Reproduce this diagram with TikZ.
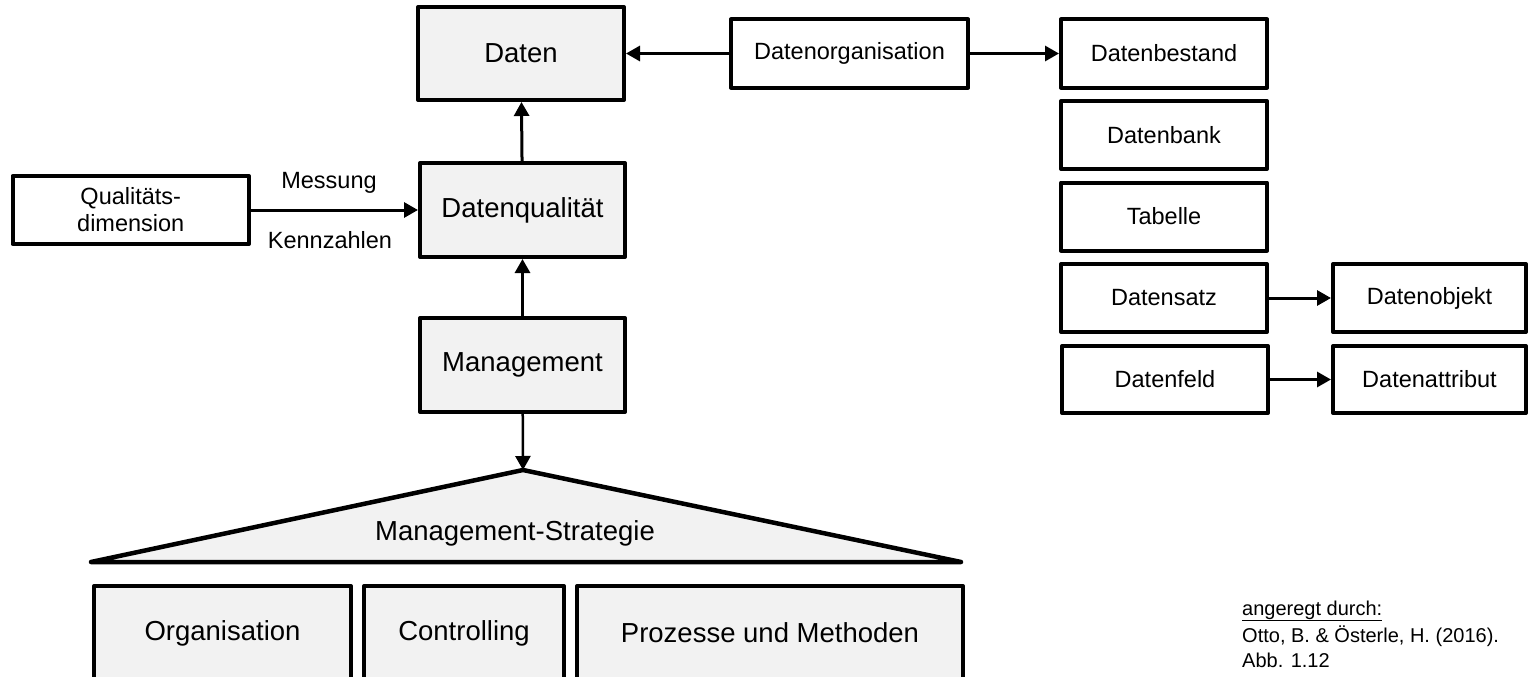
\documentclass[tikz,border=0pt]{standalone}
\usepackage{fontspec}
\setmainfont{Liberation Sans}
\usetikzlibrary{arrows.meta}
\definecolor{boxgray}{HTML}{F2F2F2}
\newcommand\bigf{\fontsize{27.5}{32}\selectfont}
\newcommand\smallf{\fontsize{23.5}{27}\selectfont}
\newcommand\citef{\fontsize{20}{25}\selectfont}
\begin{document}
\begin{tikzpicture}[x=1pt,y=-1pt,
  bigbox/.style={draw, line width=4pt, line join=round, fill=boxgray, font=\bigf, inner sep=0pt, minimum height=94pt},
  smallbox/.style={draw, line width=4pt, line join=round, fill=white, font=\smallf, inner sep=0pt, align=center, minimum height=68pt},
  rbox/.style={smallbox, minimum width=206pt},
  arr/.style={line width=3pt, -{Triangle[length=14pt,width=15pt]}},
  lbl/.style={font=\smallf, inner sep=0pt},
  cite/.style={font=\citef, inner sep=0pt, anchor=base west}]
\useasboundingbox (0,0) rectangle (1528,677);
\clip (0,0) rectangle (1528,677);
\fill[white] (0,0) rectangle (1528,677);
% left column
\node[bigbox, minimum width=206pt, minimum height=93pt] (daten) at (521,53.5) {Daten};
\node[bigbox, minimum width=205pt] (dq) at (522.5,210) {Datenqualität};
\node[bigbox, minimum width=205pt] (mgmt) at (522.5,365) {Management};
\node[smallbox, minimum width=236.5pt] (qd) at (130.75,210) {Qualitäts-\\dimension};
\node[lbl] (mess) at (329,183) {Messung};
\node[lbl] (kenn) at (330,240) {Kennzahlen};
% triangle
\coordinate (apex) at (523,470);
\coordinate (bl) at (91,562);
\coordinate (br) at (961,562);
\filldraw[fill=boxgray, line width=4.5pt, line join=round] (apex) -- (br) -- (bl) -- cycle;
\node[font=\bigf, inner sep=0pt] (ms) at (515,533) {Management-Strategie};
% bottom boxes
\node[bigbox, minimum width=257pt] (org) at (222.5,633) {Organisation};
\node[bigbox, minimum width=200pt] (ctrl) at (464,633) {Controlling};
\node[bigbox, minimum width=386pt] (proz) at (770,633) {Prozesse und Methoden};
% right side
\node[smallbox, minimum width=237pt] (dorg) at (849.5,53.5) {Datenorganisation};
\node[rbox] (dbest) at (1164,53.5) {Datenbestand};
\node[rbox] (dbank) at (1164,135) {Datenbank};
\node[rbox] (tab) at (1164,216.5) {Tabelle};
\node[rbox] (dsatz) at (1164,298) {Datensatz};
\node[rbox, minimum height=67pt] (dfeld) at (1165,379.5) {Datenfeld};
\node[smallbox, minimum width=193pt] (dobj) at (1429.5,298) {Datenobjekt};
\node[smallbox, minimum width=193pt, minimum height=67pt] (dattr) at (1429.5,379.5) {Datenattribut};
% connectors
\draw[arr] (dorg) -- (daten);
\draw[arr] (dorg) -- (dbest);
\draw[arr] (dq) -- (daten);
\draw[arr] (mgmt) -- (dq);
\draw[arr, line width=2.5pt] (mgmt) -- (apex);
\draw[arr] (qd) -- (dq);
\draw[arr] (dsatz) -- (dobj);
\draw[arr] (dfeld) -- (dattr);
% citation
\node[cite] (c1) at (1242,615) {\underline{angeregt durch:}};
\node[cite] (c2) at (1242,642) {Otto, B. \& Österle, H. (2016).};
\node[cite] (c3) at (1242,667) {Abb. 1.12};
\end{tikzpicture}
\end{document}
